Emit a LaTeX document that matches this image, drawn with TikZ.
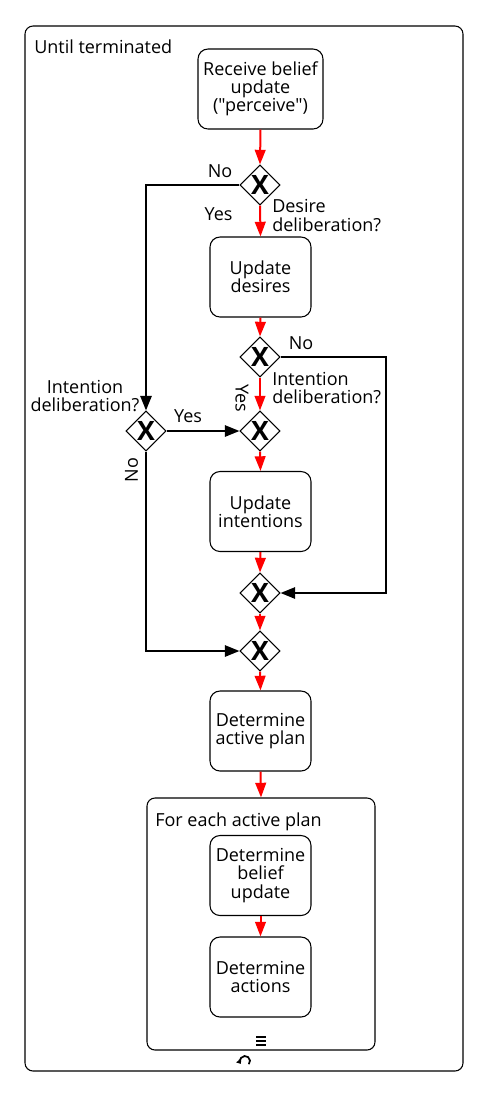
\documentclass[tikz,border=0pt]{standalone}
\usepackage{fontspec}
\setmainfont{Open Sans}[Ligatures=TeXOff]
\usetikzlibrary{shapes.geometric,arrows.meta,calc}
\begin{document}
\begin{tikzpicture}[x=0.75pt,y=-0.75pt,
  every node/.style={font=\fontsize{13.5}{13.7}\selectfont},
  task/.style={draw,rounded corners=7.5pt,line width=0.8pt,minimum width=75.75pt,minimum height=60pt,align=center,inner sep=0pt},
  gw/.style={draw,diamond,fill=white,line width=0.8pt,minimum width=30pt,minimum height=30pt,inner sep=0pt,font=\fontsize{20}{20}\selectfont\bfseries},
  flow/.style={red,line width=1.5pt,-{Triangle[length=11pt,width=8pt]}},
  bflow/.style={black,line width=1.5pt,-{Triangle[length=11pt,width=8.5pt]}},
  lbl/.style={inner sep=0pt,align=center},
  box/.style={draw,rounded corners=6pt,line width=0.8pt,inner sep=0pt}]
\useasboundingbox[fill=white] (0,0) rectangle (488,1097);
% containers
\node[box,minimum width=328.5pt,minimum height=783.75pt] (outer) at (244,548.5) {};
\node[lbl,anchor=base west] (untl) at (34,53) {Until terminated};
\node[box,minimum width=171pt,minimum height=189pt] (plan) at (261,924) {};
\node[lbl,anchor=base west] (forl) at (155,826) {For each active plan};
% tasks
\node[task,minimum width=93.75pt] (recv) at (260.5,89) {Receive belief\\update\\("perceive")};
\node[task] (des) at (260.5,277) {Update\\desires};
\node[task] (int) at (260.5,511.5) {Update\\intentions};
\node[task] (act) at (260.5,731) {Determine\\active plan};
\node[task] (bel) at (260.5,875.5) {Determine\\belief\\update};
\node[task] (acts) at (260.5,977) {Determine\\actions};
% gateways
\node[gw] (g1) at (260,185) {X};
\node[gw] (g3) at (260,357) {X};
\node[gw] (g2) at (146,431) {X};
\node[gw] (g4) at (260,431) {X};
\node[gw] (g5) at (260,593) {X};
\node[gw] (g6) at (260,651) {X};
\coordinate (rt) at (386,357);
% flows
\draw[flow] (recv.south) -- (g1.north);
\draw[flow] (g1.south) -- (des.north);
\draw[bflow] (g1.west) -| (g2.north);
\draw[flow] (des.south) -- (g3.north);
\draw[flow] (g3.south) -- (g4.north);
\draw[bflow] (g3.east) -- (rt) -- (rt |- g5.east) -- (g5.east);
\draw[bflow] (g2.east) -- (g4.west);
\draw[flow] (g4.south) -- (int.north);
\draw[flow] (int.south) -- (g5.north);
\draw[flow] (g5.south) -- (g6.north);
\draw[bflow] (g2.south) |- (g6.west);
\draw[flow] (g6.south) -- (act.north);
\draw[flow] (act.south) -- (plan.north);
\draw[flow] (bel.south) -- (acts.north);
% labels
\node[lbl] (l1) at (220,171) {No};
\node[lbl] (l2) at (218.5,214) {Yes};
\node[lbl,align=left,anchor=west] (l3) at (272,215.5) {Desire\\deliberation?};
\node[lbl] (l4) at (301,343) {No};
\node[lbl,align=left,anchor=west] (l5) at (272,388) {Intention\\deliberation?};
\node[lbl,rotate=-90] (l6) at (242,398.5) {Yes};
\node[lbl] (l7) at (85,396) {Intention\\deliberation?};
\node[lbl] (l8) at (188,416) {Yes};
\node[lbl,rotate=90] (l9) at (131.5,470) {No};
% markers
\foreach \dy in {-14,-10,-6}
  \draw[line width=1.5pt] ($(plan.south)+(-5,\dy)$) -- +(10,0);
\begin{scope}[shift={(245,1061)},x=0.75pt,y=0.75pt]
  \draw[line width=1.3pt,-{Triangle[length=3pt,width=4.5pt]}] (-40:5) arc[start angle=-40,end angle=215,radius=5];
\end{scope}
\end{tikzpicture}
\end{document}
